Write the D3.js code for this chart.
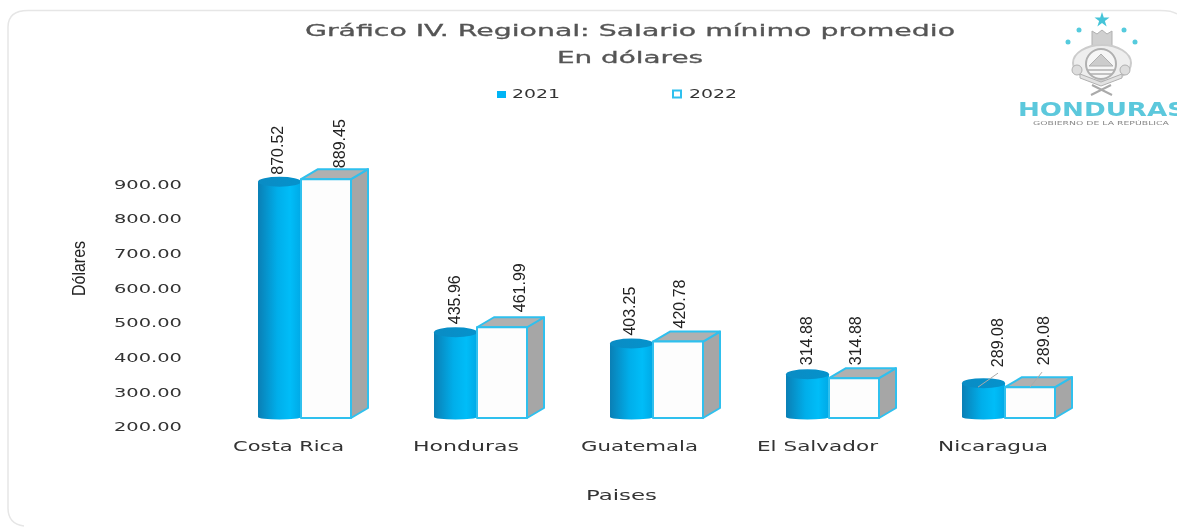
<!DOCTYPE html>
<html>
<head>
<meta charset="utf-8">
<script src="https://cdn.jsdelivr.net/npm/d3@7"></script>
<style>
  html, body { margin: 0; padding: 0; background: #fff; overflow: hidden; }
  svg { display: block; filter: blur(0.5px); }
  text { font-family: "DejaVu Sans", sans-serif; fill: #333; }
</style>
</head>
<body>
<script>
const categories = ['Costa Rica', 'Honduras', 'Guatemala', 'El Salvador', 'Nicaragua']
const values2021 = [870.52, 435.96, 403.25, 314.88, 289.08]
const values2022 = [889.45, 461.99, 420.78, 314.88, 289.08]
const labels2021 = ['870.52', '435.96', '403.25', '314.88', '289.08']
const labels2022 = ['889.45', '461.99', '420.78', '314.88', '289.08']
const yTicks = [200, 300, 400, 500, 600, 700, 800, 900]

function wideText(sel, len) {
    return sel.attr('textLength', len).attr('lengthAdjust', 'spacingAndGlyphs')
}

function main() {
    const width = 1177, height = 527
    const svg = d3.select('body').append('svg')
        .attr('width', width)
        .attr('height', height)

    const defs = svg.append('defs')
    const cylGrad = defs.append('linearGradient').attr('id', 'cyl')
    cylGrad.append('stop').attr('offset', '0%').attr('stop-color', '#0a7fb5')
    cylGrad.append('stop').attr('offset', '45%').attr('stop-color', '#00aeea')
    cylGrad.append('stop').attr('offset', '75%').attr('stop-color', '#00bdf8')
    cylGrad.append('stop').attr('offset', '100%').attr('stop-color', '#00a9e6')
    const topGrad = defs.append('linearGradient').attr('id', 'cyltop')
    topGrad.append('stop').attr('offset', '0%').attr('stop-color', '#0a8cc4')
    topGrad.append('stop').attr('offset', '100%').attr('stop-color', '#0592cc')

    // card, only its top and left edges show in the picture
    svg.append('path')
        .attr('d', 'M24,526 Q8,524 8,508 V27 Q8,10.5 28,10.5 H1160 Q1172,10.5 1177,14')
        .attr('fill', 'none')
        .attr('stroke', '#e6e6e6')
        .attr('stroke-width', 1.5)

    // title
    wideText(svg.append('text')
        .attr('x', 305).attr('y', 36)
        .attr('font-size', 16)
        .style('fill', '#555').style('stroke', '#555').style('stroke-width', 0.3)
        .text('Gráfico IV. Regional: Salario mínimo promedio'), 650)
    wideText(svg.append('text')
        .attr('x', 557).attr('y', 63)
        .attr('font-size', 16)
        .style('fill', '#555').style('stroke', '#555').style('stroke-width', 0.3)
        .text('En dólares'), 146)

    // legend
    svg.append('rect').attr('x', 497).attr('y', 91)
        .attr('width', 9).attr('height', 7).attr('fill', '#00b4f5')
    wideText(svg.append('text').attr('x', 512).attr('y', 98)
        .attr('font-size', 11.5).text('2021'), 48)
    svg.append('rect').attr('x', 673).attr('y', 90.5)
        .attr('width', 8).attr('height', 7)
        .attr('fill', '#fff').attr('stroke', '#2fc0ee').attr('stroke-width', 2)
    wideText(svg.append('text').attr('x', 689).attr('y', 98)
        .attr('font-size', 11.5).text('2022'), 48)

    // scales
    const xScale = d3.scaleBand()
        .domain(categories)
        .range([213, 1093])
    const yScale = d3.scaleLinear()
        .domain([200, 900])
        .range([418, 175.5])
    const center = d => xScale(d) + xScale.bandwidth() / 2

    // y axis, labels sit a little under their value as in the picture
    const yAxis = svg.append('g')
        .attr('transform', 'translate(182,9)')
        .call(d3.axisLeft(yScale).tickValues(yTicks).tickSize(0).tickPadding(0)
            .tickFormat(d3.format('.2f')))
    yAxis.select('.domain').remove()
    yAxis.selectAll('text')
        .attr('font-size', 12)
        .attr('font-family', '"DejaVu Sans", sans-serif')
        .style('fill', '#333')
        .each(function () { wideText(d3.select(this), 68) })

    svg.append('text')
        .attr('transform', 'translate(85,268.5) rotate(-90) scale(0.84,1)')
        .attr('text-anchor', 'middle')
        .attr('font-size', 19)
        .style('font-family', '"Liberation Sans", sans-serif')
        .style('fill', '#222')
        .text('Dólares')

    // x labels
    const xLabelW = [111, 106, 117, 121, 110]
    const xLabelOff = [-68, -64, -72, -72, -67]
    svg.selectAll('.xlab').data(categories).enter().append('text')
        .attr('class', 'xlab')
        .attr('x', (d, i) => center(d) + xLabelOff[i])
        .attr('y', 451)
        .attr('font-size', 13.5)
        .text(d => d)
        .each(function (d, i) { wideText(d3.select(this), xLabelW[i]) })
    wideText(svg.append('text').attr('x', 586).attr('y', 500)
        .attr('font-size', 13.5).text('Paises'), 71)

    // 2021 cylinders
    const cylW = 43, ry = 5
    const base = yScale(200)
    const cylTop = v => yScale(v) - 4
    const cyl = svg.selectAll('.cyl').data(categories).enter().append('g').attr('class', 'cyl')
    cyl.append('path')
        .attr('fill', 'url(#cyl)')
        .attr('d', (d, i) => {
            const x0 = center(d) - cylW, y1 = cylTop(values2021[i])
            return `M${x0},${y1} V${base - 1} A${cylW / 2},${ry / 2} 0 0 0 ${x0 + cylW},${base - 1} V${y1} Z`
        })
    cyl.append('ellipse')
        .attr('cx', d => center(d) - cylW / 2)
        .attr('cy', (d, i) => cylTop(values2021[i]))
        .attr('rx', cylW / 2)
        .attr('ry', ry)
        .attr('fill', 'url(#cyltop)')

    // 2022 boxes
    const boxW = 50, dx = 17, dy = 10
    const box = svg.selectAll('.box').data(categories).enter().append('g').attr('class', 'box')
        .attr('stroke', '#2fc0ee').attr('stroke-width', 2).attr('stroke-linejoin', 'round')
    box.append('path')
        .attr('fill', '#a6a6a6')
        .attr('d', (d, i) => {
            const x1 = center(d) + boxW, y1 = yScale(values2022[i])
            return `M${x1},${y1} L${x1 + dx},${y1 - dy} V${base - dy} L${x1},${base} Z`
        })
    box.append('path')
        .attr('fill', '#b0b0b0')
        .attr('d', (d, i) => {
            const x0 = center(d), y1 = yScale(values2022[i])
            return `M${x0},${y1} L${x0 + dx},${y1 - dy} H${x0 + boxW + dx} L${x0 + boxW},${y1} Z`
        })
    box.append('rect')
        .attr('x', d => center(d))
        .attr('y', (d, i) => yScale(values2022[i]))
        .attr('width', boxW)
        .attr('height', (d, i) => base - yScale(values2022[i]))
        .attr('fill', '#fdfdfd')

    // value labels, each nudged to where the picture has it
    const valueLabel = (cls, labels, vals, offX, gaps) => {
        svg.selectAll('.' + cls).data(categories).enter().append('text')
            .attr('class', cls)
            .attr('transform', (d, i) => {
                const x = center(d) + offX[i]
                const y = yScale(vals[i]) - gaps[i]
                return `translate(${x},${y}) rotate(-90)`
            })
            .attr('font-size', 16)
            .style('font-family', '"Liberation Sans", sans-serif')
            .style('fill', '#222')
            .text((d, i) => labels[i])
    }
    valueLabel('v21', labels2021, values2021, [-18, -17, -18, -17, -2], [11, 12, 12, 13, 20])
    valueLabel('v22', labels2022, values2022, [44, 48, 32, 32, 44], [11, 15, 13, 13, 22])

    // leader lines for the Nicaragua labels
    const last = categories[4]
    svg.append('line')
        .attr('x1', center(last) - 27).attr('y1', yScale(values2021[4]))
        .attr('x2', center(last) - 7).attr('y2', yScale(values2021[4]) - 14)
        .attr('stroke', '#aaa')
    svg.append('line')
        .attr('x1', center(last) + 25).attr('y1', yScale(values2022[4]))
        .attr('x2', center(last) + 37).attr('y2', yScale(values2022[4]) - 15)
        .attr('stroke', '#aaa')

    // logo
    const logo = svg.append('g').style('filter', 'blur(0.7px)')
    const starPath = d3.symbol().type(d3.symbolStar)
    logo.append('path').attr('d', starPath.size(70)()).attr('transform', 'translate(1102,20)').attr('fill', '#45c4d8')
    const dots = [[1079, 30], [1124, 30], [1068, 42], [1135, 42]]
    logo.selectAll('.dot').data(dots).enter().append('circle')
        .attr('cx', d => d[0]).attr('cy', d => d[1]).attr('r', 2.5).attr('fill', '#55cbdd')
    const crest = logo.append('g').attr('fill', 'none').attr('stroke', '#b0b0b0')
    crest.append('path').attr('d', 'M1092,46 V31 l5,3 l5,-4 l5,4 l5,-3 V46 Z').attr('fill', '#d0d0d0')
    crest.append('ellipse').attr('cx', 1102).attr('cy', 63).attr('rx', 29).attr('ry', 18).attr('fill', '#eee').attr('stroke', '#ccc').attr('stroke-width', 2)
    crest.append('circle').attr('cx', 1101).attr('cy', 64).attr('r', 15).attr('fill', '#f6f6f6').attr('stroke-width', 2)
    crest.append('path').attr('d', 'M1089,66 L1101,54 L1113,66 Z').attr('fill', '#ccc')
    crest.append('path').attr('d', 'M1088,70 H1114 M1090,74 H1112').attr('stroke-width', 1.5)
    crest.append('circle').attr('cx', 1077).attr('cy', 70).attr('r', 5).attr('fill', '#ddd')
    crest.append('circle').attr('cx', 1125).attr('cy', 70).attr('r', 5).attr('fill', '#ddd')
    crest.append('path').attr('d', 'M1080,78 L1101,86 L1122,78 V74 L1101,82 L1080,74 Z').attr('fill', '#e2e2e2')
    crest.append('path').attr('d', 'M1091,95 L1111,85 M1112,95 L1092,85').attr('stroke-width', 2).attr('stroke', '#aaa')
    wideText(logo.append('text').attr('x', 1018).attr('y', 116)
        .attr('font-size', 20).attr('font-weight', 'bold')
        .style('fill', '#5cc8dc').text('HONDURAS'), 168)
    wideText(logo.append('text').attr('x', 1033).attr('y', 125)
        .attr('font-size', 5.5).style('fill', '#888').text('GOBIERNO DE LA REPÚBLICA'), 136)
}

main()
</script>
</body>
</html>
